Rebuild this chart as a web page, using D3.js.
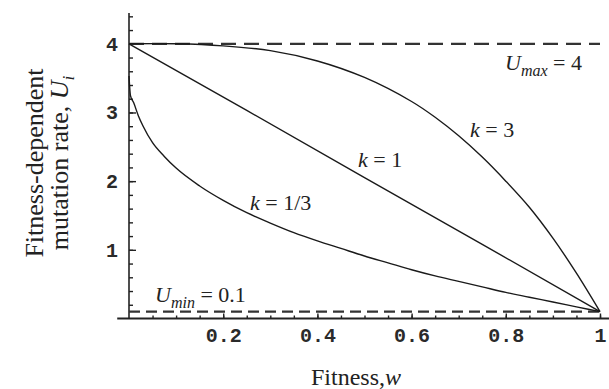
<!DOCTYPE html>
<html><head><meta charset="utf-8">
<script src="https://cdn.jsdelivr.net/npm/d3@7"></script>
<style>
html,body{margin:0;padding:0;background:#fff;}
svg{display:block;}
.tick text{font-family:"Liberation Mono","DejaVu Sans Mono",monospace;font-weight:bold;font-size:20px;fill:#2a2a2a;}
.ann{font-family:"Liberation Serif","Times New Roman",serif;font-size:22px;fill:#222;}
.lab{font-family:"Liberation Serif","Times New Roman",serif;fill:#222;}
</style></head>
<body>
<script>
// ---- data ----
const xMajorTicks = [0.2, 0.4, 0.6, 0.8, 1];
const xTickLabels = ["0.2", "0.4", "0.6", "0.8", "1"];
const yMajorTicks = [1, 2, 3, 4];
const yTickLabels = ["1", "2", "3", "4"];
const Umax = 4;
const Umin = 0.1;

const wK3 = [0, 0.1, 0.2, 0.3, 0.4, 0.5, 0.6, 0.65, 0.7, 0.75, 0.8, 0.85, 0.9, 0.95, 1];
const uK3 = [4.0, 4.0, 3.97, 3.9, 3.75, 3.51, 3.16, 2.93, 2.66, 2.35, 2.0, 1.62, 1.17, 0.66, 0.1];

const wK1 = [0, 0.25, 0.5, 0.75, 1];
const uK1 = [4.0, 3.03, 2.05, 1.08, 0.1];

const wK13 = [0, 0.003, 0.01, 0.02, 0.03, 0.05, 0.075, 0.1, 0.15, 0.2, 0.25, 0.3, 0.35, 0.4, 0.45, 0.5, 0.55, 0.6, 0.65, 0.7, 0.75, 0.8, 0.85, 0.9, 0.95, 1];
const uK13 = [3.53, 3.25, 3.14, 2.95, 2.8, 2.56, 2.36, 2.19, 1.93, 1.72, 1.54, 1.39, 1.25, 1.13, 1.02, 0.91, 0.81, 0.71, 0.62, 0.54, 0.46, 0.38, 0.31, 0.24, 0.17, 0.1];

// ---- layout ----
const W = 609, H = 389;
const svg = d3.select("body").append("svg").attr("width", W).attr("height", H);

const x = d3.scaleLinear().domain([0, 1]).range([129, 600]);
const y = d3.scaleLinear().domain([0, 4]).range([318.5, 43.8]);

// axes lines
svg.append("line").attr("x1", x(-0.025)).attr("x2", W).attr("y1", y(0)).attr("y2", y(0))
  .attr("stroke", "#222").attr("stroke-width", 2);
svg.append("line").attr("x1", x(0)).attr("x2", x(0)).attr("y1", y(0)).attr("y2", y(4.45))
  .attr("stroke", "#222").attr("stroke-width", 1.6);

// minor ticks
const xMinor = d3.range(1, 21).map(i => i * 0.05);
const yMinor = d3.range(1, 23).map(i => i * 0.2);
svg.append("g").attr("transform", `translate(0,${y(0)})`)
  .call(d3.axisBottom(x).tickValues(xMinor).tickSize(-3).tickFormat(""))
  .call(g => g.select(".domain").remove())
  .call(g => g.selectAll("line").attr("stroke", "#222").attr("stroke-width", 1.4));
svg.append("g").attr("transform", `translate(${x(0)},0)`)
  .call(d3.axisLeft(y).tickValues(yMinor).tickSize(-4).tickFormat(""))
  .call(g => g.select(".domain").remove())
  .call(g => g.selectAll("line").attr("stroke", "#222").attr("stroke-width", 1.4));

// major ticks
svg.append("g").attr("transform", `translate(0,${y(0)})`)
  .call(d3.axisBottom(x).tickValues(xMajorTicks).tickSize(-5).tickPadding(9)
    .tickFormat((d, i) => xTickLabels[i]))
  .call(g => g.select(".domain").remove())
  .call(g => g.selectAll("line").attr("stroke", "#222").attr("stroke-width", 1.4));
svg.append("g").attr("transform", `translate(${x(0)},0)`)
  .call(d3.axisLeft(y).tickValues(yMajorTicks).tickSize(-7).tickPadding(11)
    .tickFormat((d, i) => yTickLabels[i]))
  .call(g => g.select(".domain").remove())
  .call(g => g.selectAll("line").attr("stroke", "#222").attr("stroke-width", 1.4));

// dashed reference lines
svg.append("line").attr("x1", x(0)).attr("x2", x(1)).attr("y1", y(Umax)).attr("y2", y(Umax))
  .attr("stroke", "#333").attr("stroke-width", 2.2).attr("stroke-dasharray", "15 8");
svg.append("line").attr("x1", x(0)).attr("x2", x(1)).attr("y1", y(Umin)).attr("y2", y(Umin))
  .attr("stroke", "#333").attr("stroke-width", 2.2).attr("stroke-dasharray", "11 6");

// curves
const mkLine = c => d3.line().x(d => x(d[0])).y(d => y(d[1])).curve(c);
const series = [
  [wK3, uK3, d3.curveCatmullRom.alpha(0.5)],
  [wK1, uK1, d3.curveLinear],
  [wK13, uK13, d3.curveMonotoneX]
];
series.forEach(([ws, us, c]) => {
  svg.append("path").datum(ws.map((w, i) => [w, us[i]]))
    .attr("d", mkLine(c)).attr("fill", "none").attr("stroke", "#1a1a1a").attr("stroke-width", 1.4);
});

// annotations
function kLabel(px, py, val) {
  const t = svg.append("text").attr("class", "ann").attr("x", px).attr("y", py);
  t.append("tspan").attr("font-style", "italic").text("k");
  t.append("tspan").text(" = " + val);
}
kLabel(470, 137, "3");
kLabel(358, 167, "1");
kLabel(250, 210, "1/3");

function uLabel(px, py, sub, val) {
  const t = svg.append("text").attr("class", "ann").attr("x", px).attr("y", py);
  t.append("tspan").attr("font-style", "italic").text("U");
  t.append("tspan").attr("font-style", "italic").attr("font-size", "16px").attr("dy", 6).text(sub);
  t.append("tspan").attr("dy", -6).text(" = " + val);
}
uLabel(505, 70, "max", "4");
uLabel(155, 302, "min", "0.1");

// axis labels
const xl = svg.append("text").attr("class", "lab").attr("font-size", "24px")
  .attr("x", 356).attr("y", 385).attr("text-anchor", "middle");
xl.append("tspan").text("Fitness,");
xl.append("tspan").attr("font-style", "italic").text("w");

const yl = svg.append("g").attr("transform", "translate(0,163) rotate(-90)");
yl.append("text").attr("class", "lab").attr("font-size", "26px")
  .attr("x", 0).attr("y", 43).attr("text-anchor", "middle").text("Fitness-dependent");
const yl2 = yl.append("text").attr("class", "lab").attr("font-size", "26px")
  .attr("x", 0).attr("y", 68).attr("text-anchor", "middle");
yl2.append("tspan").text("mutation rate, ");
yl2.append("tspan").attr("font-style", "italic").text("U");
yl2.append("tspan").attr("font-style", "italic").attr("font-size", "17px").attr("dy", 6).text("i");
</script>
</body></html>
